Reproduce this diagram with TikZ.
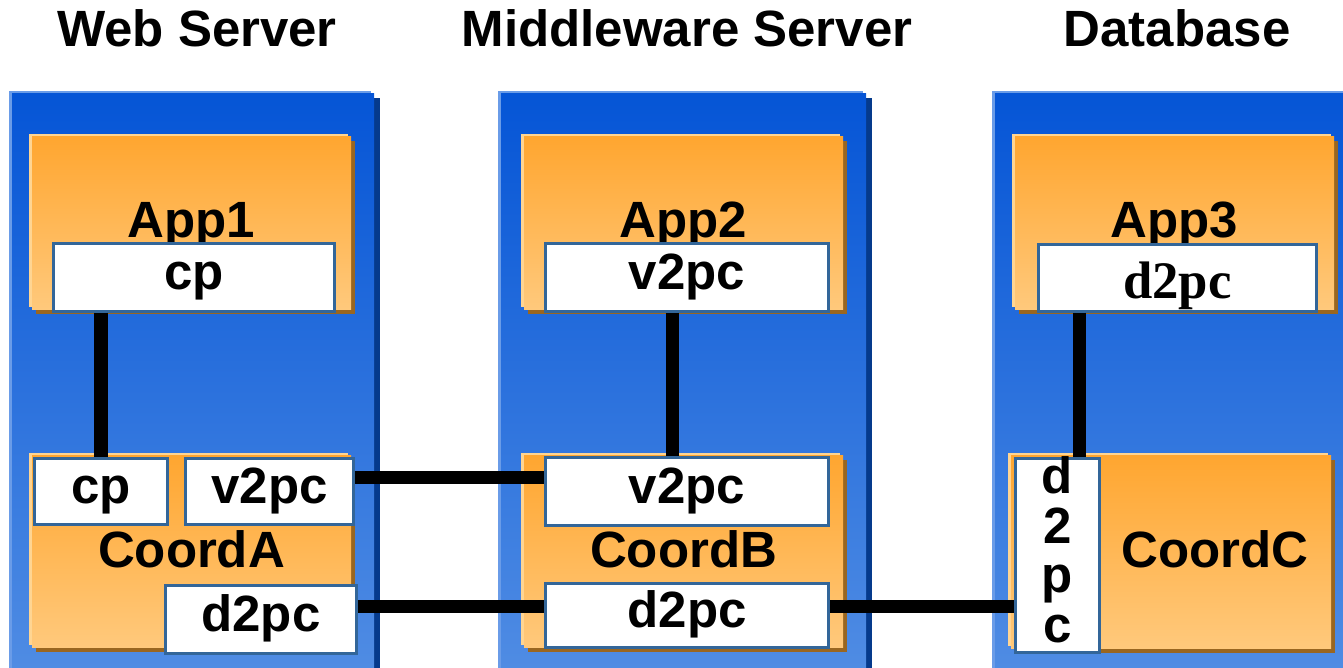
\documentclass[tikz,border=0pt]{standalone}
\usepackage{fontspec}
\setmainfont{Liberation Sans}
\newfontfamily\boxserif{Liberation Serif}
\usetikzlibrary{shadows,fit,calc}

\definecolor{paneltop}{HTML}{0555D6}
\definecolor{panelbot}{HTML}{528EE4}
\definecolor{panelrim}{HTML}{6A9CE8}
\definecolor{paneldark}{HTML}{053A8C}
\definecolor{apptop}{HTML}{FFA630}
\definecolor{appbot}{HTML}{FFC97C}
\definecolor{apprim}{HTML}{FFD592}
\definecolor{appdark}{HTML}{996620}
\definecolor{portedge}{HTML}{336699}

\tikzset{
	server/.style={inner sep=0pt, top color=paneltop, bottom color=panelbot,
		general shadow={fill=panelrim, shadow xshift=-0.03cm, shadow yshift=0.03cm},
		general shadow={fill=paneldark, shadow xshift=0.06cm, shadow yshift=-0.04cm}},
	appbox/.style={inner sep=0pt, top color=apptop, bottom color=appbot,
		general shadow={fill=apprim, shadow xshift=-0.03cm, shadow yshift=0.03cm},
		general shadow={fill=appdark, shadow xshift=0.04cm, shadow yshift=-0.04cm}},
	portbox/.style={draw=portedge, line width=0.85pt, fill=white, inner sep=0pt,
		anchor=north west, font=\fontsize{14.5}{14.1}\selectfont\bfseries},
	port/.style={portbox, text height=10pt, text depth=3pt},
	boxsize/.style 2 args={minimum width=#1*0.01cm, minimum height=#2*0.01cm},
	title/.style={anchor=base, font=\fontsize{14.5}{17}\selectfont\bfseries},
	applabel/.style={anchor=base, font=\fontsize{14.5}{17}\selectfont\bfseries},
	wire/.style={line width=0.13cm, black}
}

\begin{document}
\begin{tikzpicture}[x=0.01cm, y=-0.01cm, inner sep=0pt]
	\path[use as bounding box, clip] (0,0) rectangle (1343,668);

	% titles
	\node[title] (tWeb) at (197,47) {Web Server};
	\node[title] (tMid) at (687,47) {Middleware Server};
	\node[title] (tDb) at (1177,47) {Database};

	% servers
	\node[fit={(12,94) (374,690)}, server] (srvA) {};
	\node[fit={(501,94) (866,690)}, server] (srvB) {};
	\node[fit={(995,94) (1360,690)}, server] (srvC) {};

	% applications
	\node[fit={(32,137) (351,310)}, appbox] (app1) {};
	\node[fit={(524,137) (843,310)}, appbox] (app2) {};
	\node[fit={(1015,137) (1334,310)}, appbox] (app3) {};
	\node[applabel] (lApp1) at ($(app1.north)+(0,101)$) {App1};
	\node[applabel] (lApp2) at ($(app2.north)+(0,101)$) {App2};
	\node[applabel] (lApp3) at ($(app3.north)+(0,101)$) {App3};

	% coordinators
	\node[fit={(32,456) (351,648)}, appbox] (coordA) {};
	\node[fit={(524,456) (843,648)}, appbox] (coordB) {};
	\node[fit={(1011,456) (1331,649)}, appbox] (coordC) {};
	\node[applabel] (lCoordA) at ($(coordA.south)+(0,-81)$) {CoordA};
	\node[applabel] (lCoordB) at ($(coordB.south)+(0,-81)$) {CoordB};
	\node[applabel] (lCoordC) at (1215,568) {CoordC};

	% ports
	\node[port, boxsize={281}{68}] (cp1) at (52,242) {cp};
	\node[port, boxsize={283}{68}] (v2pc2) at (544,242) {v2pc};
	\node[port, boxsize={278}{67}, text height=14.6pt, font=\fontsize{15}{17}\selectfont\boxserif\bfseries] (d2pc3) at (1037,243) {d2pc};
	\node[port, boxsize={133}{66}] (cpA) at (33,457) {cp};
	\node[port, boxsize={168}{66}] (v2pcA) at (184,457) {v2pc};
	\node[port, boxsize={191}{68}] (d2pcA) at (164,584) {d2pc};
	\node[port, boxsize={283}{68}] (v2pcB) at (544,456) {v2pc};
	\node[port, boxsize={283}{64}] (d2pcB) at (544,582) {d2pc};
	\node[portbox, boxsize={84}{194},
		label={[align=center, yshift=1.6pt, font=\fontsize{14.5}{14.1}\selectfont\bfseries]center:{d\\2\\p\\c}}] (dpcC) at (1014,457) {};

	% links
	\coordinate (busV) at (0,478);
	\coordinate (busD) at (0,607);
	\coordinate (tapB) at (672,0);
	\coordinate (tapC) at (1079,0);
	\draw[wire] (cp1.south -| cpA.north) -- (cpA.north);
	\draw[wire] (v2pc2.south -| tapB) -- (v2pcB.north -| tapB);
	\draw[wire] (d2pc3.south -| tapC) -- (dpcC.north -| tapC);
	\draw[wire] (v2pcA.east |- busV) -- (v2pcB.west |- busV);
	\draw[wire] (d2pcA.east |- busD) -- (d2pcB.west |- busD);
	\draw[wire] (d2pcB.east |- busD) -- (dpcC.west |- busD);
\end{tikzpicture}
\end{document}
